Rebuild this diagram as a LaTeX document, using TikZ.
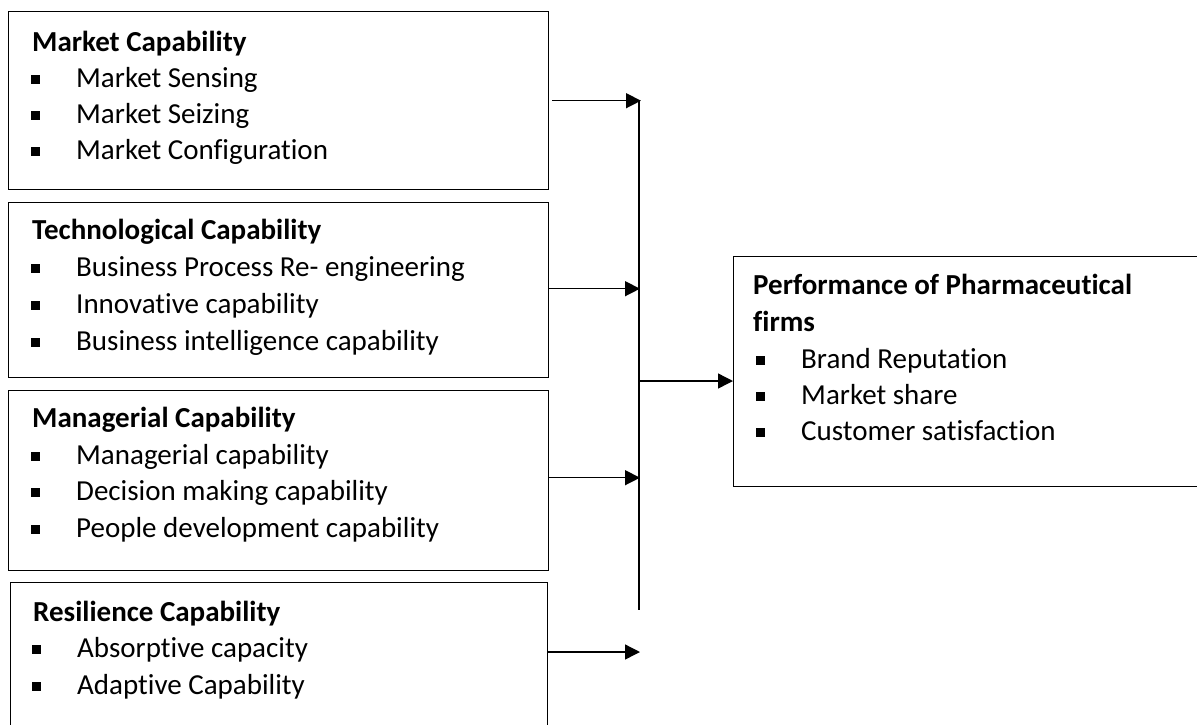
\documentclass[tikz,border=0pt]{standalone}
\usepackage{fontspec}
\setmainfont{Carlito}[Ligatures={NoCommon,NoRare}]
\usetikzlibrary{arrows.meta}

% square bullet used in the lists
\newcommand{\sqbul}{\makebox[46pt][l]{\hspace*{1pt}\raisebox{3.5pt}{\rule{8.5pt}{8.5pt}}}}

\tikzset{
  x=1pt, y=-1pt,
  box/.style={draw, line width=1.4pt, inner sep=0pt, anchor=north west},
  txt/.style={anchor=base west, inner sep=0pt, font=\fontsize{29}{36}\selectfont},
  head/.style={txt, font=\fontsize{29}{36}\selectfont\bfseries},
  arr/.style={line width=1.4pt, -{Triangle[length=15pt,width=15pt]}},
  bus/.style={line width=1.4pt}
}

\begin{document}
\begin{tikzpicture}
\useasboundingbox (0,0) rectangle (1197,724);
\clip (0,0) rectangle (1197,724);

% capability boxes
\node[box, minimum width=540, minimum height=178] (A) at (8,11) {};
\node[box, minimum width=540, minimum height=175] (B) at (8,202) {};
\node[box, minimum width=540, minimum height=180] (C) at (8,390) {};
\node[box, minimum width=537, minimum height=146] (D) at (10,582) {};
% outcome box
\node[box, minimum width=480, minimum height=230] (E) at (733,256) {};

% box texts
\node[head] (A0) at (32,51) {Market Capability};
\node[txt] (A1) at (30,87) {\sqbul Market Sensing};
\node[txt] (A2) at (30,123) {\sqbul Market Seizing};
\node[txt] (A3) at (30,159) {\sqbul Market Configuration};

\node[head] (B0) at (32,239) {Technological Capability};
\node[txt] (B1) at (30,276) {\sqbul Business Process Re- engineering};
\node[txt] (B2) at (30,313) {\sqbul Innovative capability};
\node[txt] (B3) at (30,350) {\sqbul Business intelligence capability};

\node[head] (C0) at (32,427) {Managerial Capability};
\node[txt] (C1) at (30,464) {\sqbul Managerial capability};
\node[txt] (C2) at (30,500) {\sqbul Decision making capability};
\node[txt] (C3) at (30,537) {\sqbul People development capability};

\node[head] (D0) at (33,621) {Resilience Capability};
\node[txt] (D1) at (31,657) {\sqbul Absorptive capacity};
\node[txt] (D2) at (31,694) {\sqbul Adaptive Capability};

\node[head] (E0) at (753,294) {Performance of Pharmaceutical};
\node[head] (E1) at (753,331) {firms};
\node[txt] (E2) at (755,368) {\sqbul Brand Reputation};
\node[txt] (E3) at (755,404) {\sqbul Market share};
\node[txt] (E4) at (755,440) {\sqbul Customer satisfaction};

% collecting line
\coordinate (busTop) at (639,100);
\coordinate (busBot) at (639,610);
\coordinate (busOut) at (639,381);
\draw[bus] (busTop) -- (busBot);

% arrows into the collecting line
\draw[arr, shorten >=-2pt] ([xshift=3pt]A.east) -- (A.east -| busTop);
\draw[arr, shorten >=-1pt] ([yshift=1.5pt]B.east) -- ([yshift=1.5pt]B.east -| busTop);
\draw[arr, shorten >=-1pt] ([yshift=3pt]C.east) -- ([yshift=3pt]C.east -| busTop);
\draw[arr, shorten >=-1pt] ([yshift=-70pt]D.north east) -- ([yshift=-70pt]D.north east -| busTop);

% arrow to the outcome box
\draw[arr] (busOut) -- (busOut -| E.west);
\end{tikzpicture}
\end{document}
